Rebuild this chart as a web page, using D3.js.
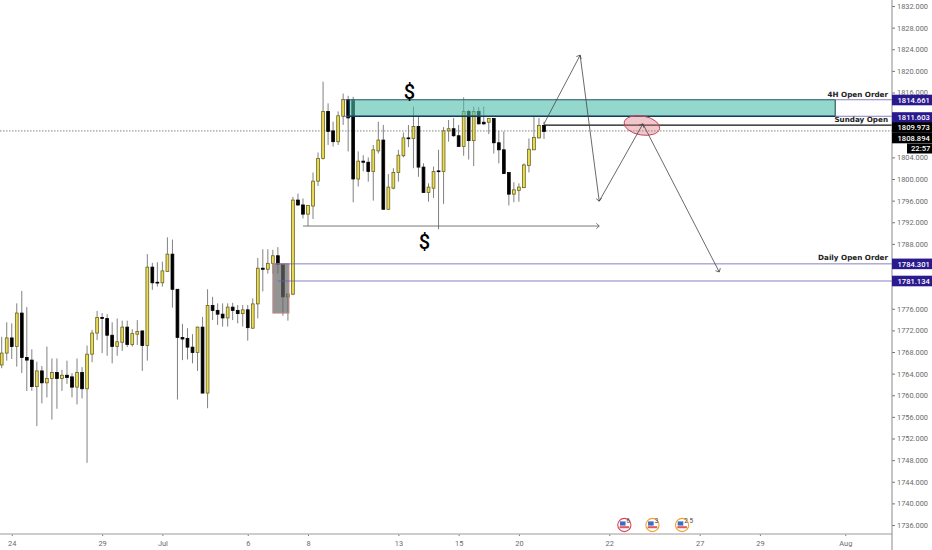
<!DOCTYPE html>
<meta charset="utf-8">
<style>
  body { margin: 0; background: #fff; font-family: Roboto, sans-serif; }
  svg { display: block; }
  .axis text { fill: #6b6b6b; font-size: 7.4px; font-family: Roboto, sans-serif; }
  .axis line { stroke: #777; }
  .note { font-family: "DejaVu Sans", sans-serif; font-weight: bold; font-size: 7.2px; fill: #222; text-anchor: end; }
  .tag { font-family: Roboto, sans-serif; font-weight: 500; font-size: 7.6px; fill: #fff; }
</style>
<body>
<svg id="chart" width="932" height="550"></svg>
<script src="https://d3js.org/d3.v7.min.js"></script>
<script>
// 4h candles
const open_ = [1765.6,1767.8,1770.6,1769.0,1775.2,1767.0,1766.5,1761.6,1764.5,1762.3,1763.1,1764.2,1763.1,1763.7,1763.4,1761.5,1764.2,1761.2,1767.6,1771.5,1774.4,1774.2,1771.1,1769.0,1769.8,1772.6,1769.4,1771.3,1771.9,1769.2,1783.7,1780.9,1780.8,1782.9,1786.1,1779.6,1770.7,1770.5,1768.9,1767.9,1772.6,1760.4,1776.6,1775.7,1775.0,1774.3,1776.3,1775.7,1775.1,1775.8,1772.4,1776.9,1783.5,1783.3,1784.4,1785.8,1784.2,1778.2,1778.7,1796.1,1795.2,1793.5,1795.0,1799.6,1803.8,1812.5,1808.9,1806.9,1811.6,1814.7,1814.7,1800.0,1803.3,1803.1,1801.4,1805.2,1807.2,1794.4,1798.3,1801.2,1804.3,1807.6,1807.5,1809.7,1802.2,1797.5,1798.3,1801.5,1801.4,1808.9,1809.3,1808.0,1806.0,1812.5,1807.1,1812.5,1810.5,1810.5,1811.2,1806.7,1805.4,1801.2,1797.2,1797.9,1798.4,1802.5,1805.4,1807.6,1809.9];
const close_ = [1767.8,1770.6,1769.0,1775.2,1767.0,1766.5,1761.6,1764.5,1762.3,1763.1,1764.2,1763.1,1763.7,1763.3,1761.5,1764.2,1761.2,1767.6,1771.5,1774.4,1774.2,1771.1,1769.0,1769.9,1772.6,1769.4,1771.4,1771.8,1769.2,1783.7,1780.8,1780.8,1783.0,1786.1,1779.6,1770.7,1770.4,1768.9,1767.9,1772.6,1760.4,1776.6,1775.7,1775.0,1774.3,1776.3,1775.7,1775.1,1775.8,1772.5,1776.9,1783.5,1783.3,1784.4,1785.8,1784.2,1778.2,1778.7,1796.1,1795.2,1793.5,1795.1,1799.6,1803.8,1812.5,1808.8,1806.9,1811.7,1814.7,1811.3,1800.0,1803.3,1803.1,1801.4,1805.4,1807.2,1794.4,1798.5,1801.2,1804.4,1807.6,1807.5,1809.7,1802.2,1797.5,1798.5,1801.4,1801.4,1808.9,1809.3,1808.0,1806.0,1812.5,1807.1,1812.5,1810.2,1810.2,1811.2,1806.7,1805.4,1801.0,1797.2,1798.0,1798.5,1802.6,1805.5,1807.7,1809.9,1808.8];
const high_ = [1770.8,1773.5,1773.3,1777.0,1779.3,1776.3,1768.5,1766.2,1765.4,1769.0,1766.8,1766.8,1764.7,1766.4,1764.1,1766.8,1765.2,1769.2,1772.1,1775.6,1775.2,1775.0,1773.5,1774.2,1773.8,1773.8,1772.2,1773.9,1771.9,1786.1,1784.5,1784.6,1784.7,1789.2,1788.8,1779.6,1773.2,1772.4,1771.3,1772.7,1774.5,1779.6,1778.2,1777.0,1777.0,1777.0,1777.1,1776.7,1776.7,1776.7,1777.9,1785.4,1787.0,1787.0,1786.9,1787.4,1784.4,1778.8,1796.7,1797.3,1796.4,1795.2,1801.2,1804.9,1818.0,1814.0,1810.6,1812.5,1815.8,1815.4,1815.2,1805.1,1804.4,1804.0,1806.3,1810.6,1810.0,1800.9,1802.0,1805.4,1808.6,1810.0,1813.4,1811.5,1802.9,1799.2,1802.3,1805.4,1809.6,1810.9,1811.3,1810.0,1815.1,1812.8,1813.4,1813.3,1813.4,1811.3,1811.3,1808.9,1808.8,1801.2,1799.4,1799.2,1802.9,1807.5,1811.7,1811.3,1810.6];
const low_ = [1765.0,1766.4,1766.7,1765.3,1764.1,1760.8,1760.8,1754.3,1758.5,1759.6,1755.5,1757.5,1760.8,1762.1,1759.6,1758.3,1759.4,1747.5,1766.1,1770.2,1767.8,1767.3,1765.9,1767.3,1768.2,1768.9,1769.0,1769.3,1764.5,1766.4,1779.5,1780.1,1780.1,1782.9,1776.2,1759.2,1766.5,1766.6,1765.9,1764.5,1760.4,1757.6,1773.9,1773.0,1772.7,1772.7,1773.9,1773.3,1772.7,1770.1,1772.3,1774.2,1779.2,1782.5,1782.5,1782.5,1774.7,1773.8,1778.5,1795.0,1792.7,1791.3,1792.6,1798.7,1803.6,1806.3,1806.0,1806.3,1810.0,1805.1,1795.7,1798.6,1801.4,1799.5,1796.0,1804.7,1794.3,1794.3,1798.1,1799.5,1804.0,1805.9,1802.0,1800.4,1797.5,1795.8,1796.5,1790.7,1795.4,1806.9,1807.8,1806.0,1804.3,1803.6,1802.4,1810.1,1810.0,1808.3,1804.7,1802.9,1800.9,1795.1,1795.7,1795.8,1798.3,1801.2,1805.4,1807.5,1807.4];

// x axis labels: candle index and text
const dateIndex = [2,20,32,49,61,79,91,103,121,139,151,168];
const dateLabels = ["24","29","Jul","6","8","13","15","20","22","27","29","Aug"];

// 1812, 1808, 1784 and 1780 sit behind the price tags
const priceTicks = [1736,1740,1744,1748,1752,1756,1760,1764,1768,1772,1776,1788,1792,1796,1800,1804,1816,1820,1824,1828,1832];

// levels drawn on the chart
const zoneTop = 1814.661, zoneBottom = 1811.603, sundayOpen = 1809.973, lastPrice = 1808.894;
const dailyTop = 1784.301, dailyBottom = 1781.134;

// projected path: candle index, price
const pathIndex = [108,115.2,119,127.7,142.9];
const pathPrice = [1810.2,1822.9,1795.9,1810.2,1782.8];

const svg = d3.select("#chart");
const x = d3.scaleLinear().domain([0,108]).range([1.7,544]);
const y = d3.scaleLinear().domain([1736,1832]).range([525,6]);
const axisX = 892, axisY = 534;

// price line
svg.append("line").attr("x1",0).attr("x2",axisX).attr("y1",y(lastPrice)).attr("y2",y(lastPrice))
  .attr("stroke","#666").attr("stroke-width",0.8).attr("stroke-dasharray","1.5 1.5");

// candles
const candles = svg.append("g").selectAll("g").data(d3.range(open_.length)).join("g");
candles.append("line")
  .attr("x1",i=>x(i)).attr("x2",i=>x(i))
  .attr("y1",i=>y(high_[i])).attr("y2",i=>y(low_[i]))
  .attr("stroke","#808080").attr("stroke-width",1);
candles.append("rect")
  .attr("x",i=>x(i)-1.4).attr("width",2.8)
  .attr("y",i=>y(Math.max(open_[i],close_[i])))
  .attr("height",i=>Math.max(0.8,Math.abs(y(open_[i])-y(close_[i]))))
  .attr("fill",i=>close_[i]>open_[i]?"#e9db55":"#000")
  .attr("stroke",i=>close_[i]>open_[i]?"#6a6420":"#000")
  .attr("stroke-width",0.8);

// order block box
svg.append("rect")
  .attr("x",x(54)).attr("width",x(57.2)-x(54))
  .attr("y",y(dailyTop)).attr("height",y(1775.2)-y(dailyTop))
  .attr("fill","#666").attr("fill-opacity",0.7).attr("stroke","#c08a8a");

// purple levels
const levelLines = [[zoneTop,68],[zoneBottom,68],[dailyTop,54.4],[dailyBottom,55]];
svg.append("g").selectAll("line").data(levelLines).join("line")
  .attr("x1",d=>x(d[1])).attr("x2",axisX)
  .attr("y1",d=>y(d[0])).attr("y2",d=>y(d[0]))
  .attr("stroke","#6a5fb0").attr("stroke-width",0.8);

// sunday open
svg.append("line").attr("x1",x(108)).attr("x2",axisX)
  .attr("y1",y(sundayOpen)).attr("y2",y(sundayOpen))
  .attr("stroke","#111").attr("stroke-width",1.2);

// supply zone
svg.append("rect")
  .attr("x",x(69.2)).attr("width",x(166)-x(69.2))
  .attr("y",y(zoneTop)).attr("height",y(zoneBottom)-y(zoneTop))
  .attr("fill","#4cbcab").attr("fill-opacity",0.6);
svg.append("line").attr("x1",x(69.2)).attr("x2",x(166)).attr("y1",y(zoneTop)).attr("y2",y(zoneTop))
  .attr("stroke","#3f706c").attr("stroke-width",1.2);
svg.append("line").attr("x1",x(69.2)).attr("x2",x(166)).attr("y1",y(zoneBottom)).attr("y2",y(zoneBottom))
  .attr("stroke","#123c5a").attr("stroke-width",1.3);
svg.append("line").attr("x1",x(69.2)).attr("x2",x(69.2)).attr("y1",y(zoneTop)).attr("y2",y(zoneBottom))
  .attr("stroke","#123c5a").attr("stroke-width",1.2);
svg.append("line").attr("x1",x(166)).attr("x2",x(166)).attr("y1",y(zoneTop)).attr("y2",y(zoneBottom))
  .attr("stroke","#2f5f5f").attr("stroke-width",1.2);

// ellipse
svg.append("ellipse")
  .attr("transform",`translate(${x(127.5)},${y(1809.9)}) rotate(10)`)
  .attr("rx",18).attr("ry",9.5)
  .attr("fill","#d9737a").attr("fill-opacity",0.4).attr("stroke","#c2405f").attr("stroke-width",0.9);

// arrows
function arrow(x1,y1,x2,y2,color) {
  const a = Math.atan2(y2-y1,x2-x1), s = 4;
  svg.append("path")
    .attr("d",`M${x1},${y1}L${x2},${y2}M${x2-s*Math.cos(a-0.75)},${y2-s*Math.sin(a-0.75)}L${x2},${y2}L${x2-s*Math.cos(a+0.75)},${y2-s*Math.sin(a+0.75)}`)
    .attr("fill","none").attr("stroke",color).attr("stroke-width",0.8);
}
for (let i=1;i<pathIndex.length;i++) {
  arrow(x(pathIndex[i-1]),y(pathPrice[i-1]),x(pathIndex[i]),y(pathPrice[i]),"#444");
}
arrow(x(60),y(1791.3),x(119),y(1791.3),"#555");

// dollar signs
svg.append("text").attr("x",x(81.2)).attr("y",y(1814.3)-3).attr("text-anchor","middle")
  .attr("font-size",20).attr("font-weight",500).attr("font-family","Roboto, sans-serif").attr("fill","#000").text("$");
svg.append("text").attr("x",x(84.2)).attr("y",y(1787.5)+2).attr("text-anchor","middle")
  .attr("font-size",20).attr("font-weight",500).attr("font-family","Roboto, sans-serif").attr("fill","#000").text("$");

// level captions
const noteText = ["4H Open Order","Sunday Open","Daily Open Order"];
const notePrice = [zoneTop,zoneBottom,dailyTop];
const noteDy = [-3,5.5,-4];
svg.append("g").selectAll("text").data(noteText).join("text").attr("class","note")
  .attr("x",888).attr("y",(d,i)=>y(notePrice[i])+noteDy[i]).text(d=>d);

// economic event icons
const eventIndex = [124,129.6,135.5];
const eventRing = ["#e4405f","#f0a030","#f0a030"];
const eventCount = ["6","3","2 5"];
const ev = svg.append("g").selectAll("g").data(eventIndex).join("g")
  .attr("transform",d=>`translate(${x(d)},525)`);
ev.append("circle").attr("r",6.6).attr("fill","#fff").attr("stroke",(d,i)=>eventRing[i]).attr("stroke-width",1.1);
ev.append("rect").attr("x",-4.4).attr("y",-3.6).attr("width",5.6).attr("height",4.2).attr("fill","#3a6fc0");
ev.append("rect").attr("x",-4.8).attr("y",1.2).attr("width",9.6).attr("height",2).attr("fill","#e35a5a");
ev.append("text").attr("x",2.2).attr("y",-1.6).attr("font-size",6.4).attr("fill","#444")
  .attr("font-family","Roboto, sans-serif").text((d,i)=>eventCount[i]);

// axes
const yAxis = d3.axisRight(y).tickValues(priceTicks).tickSize(3).tickPadding(2).tickFormat(d3.format(".3f"));
const gy = svg.append("g").attr("class","axis").attr("transform",`translate(${axisX},0)`).call(yAxis);
gy.select(".domain").remove();

const xAxis = d3.axisBottom(x).tickValues(dateIndex).tickSize(2).tickPadding(5).tickFormat((d,i)=>dateLabels[i]);
const gx = svg.append("g").attr("class","axis").attr("transform",`translate(0,${axisY})`).call(xAxis);
gx.select(".domain").remove();

svg.append("line").attr("x1",0).attr("x2",axisX).attr("y1",axisY).attr("y2",axisY).attr("stroke","#bdbdbd").attr("stroke-width",1.6);
svg.append("line").attr("x1",axisX).attr("x2",axisX).attr("y1",0).attr("y2",550).attr("stroke","#8a8a8a").attr("stroke-width",1);

// price tags
const tagText = ["1814.661","1811.603","1809.973","1808.894","1784.301","1781.134"];
const tagMid = [100,117.5,127.5,138,y(dailyTop),y(dailyBottom)];
const tagFill = ["#2a1a8e","#2a1a8e","#000","#000","#2a1a8e","#2a1a8e"];
const tags = svg.append("g").selectAll("g").data(tagText).join("g");
tags.append("rect").attr("x",axisX).attr("width",40).attr("y",(d,i)=>tagMid[i]-5.3).attr("height",10.6).attr("fill",(d,i)=>tagFill[i]);
tags.append("text").attr("class","tag").attr("x",897.5).attr("y",(d,i)=>tagMid[i]+2.7).text(d=>d);

svg.append("rect").attr("x",907).attr("width",25).attr("y",143.5).attr("height",10).attr("fill","#000");
svg.append("text").attr("class","tag").attr("x",911).attr("y",151.3).text("22:57");
</script>
</body>
